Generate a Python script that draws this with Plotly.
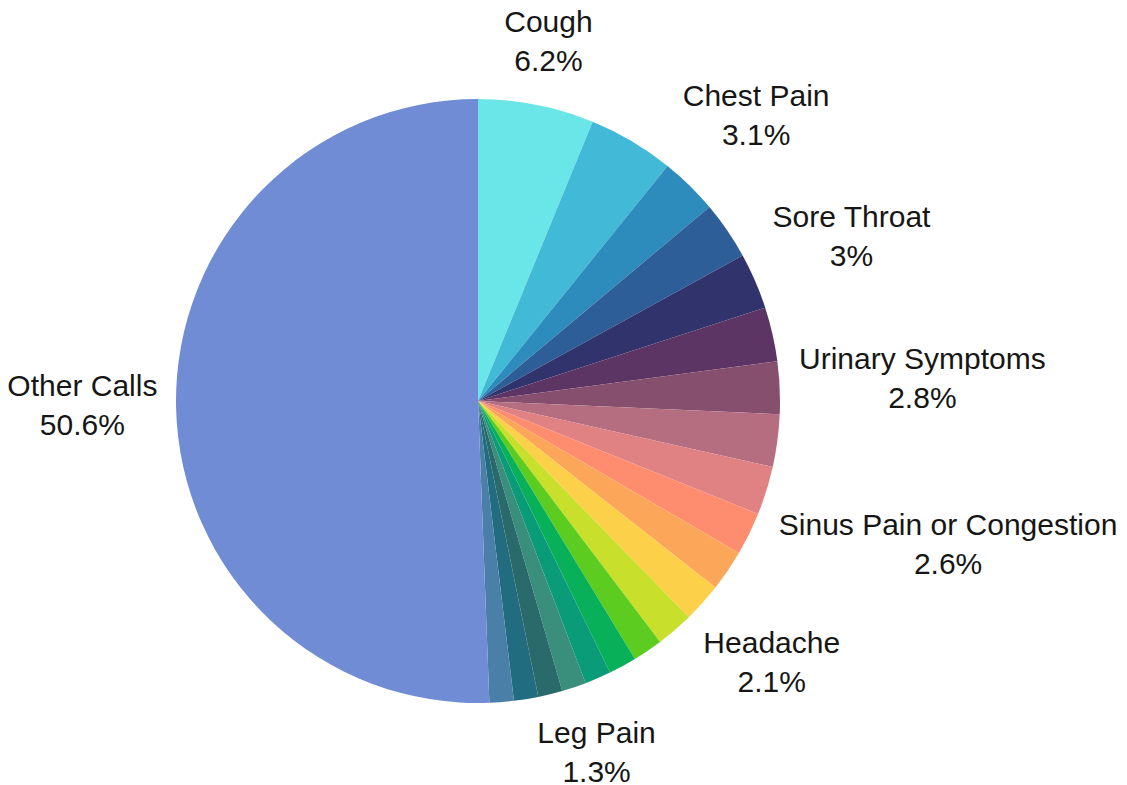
import math
import plotly.graph_objects as go

categories = [
    "Cough", "Symptom 2", "Chest Pain", "Symptom 4", "Sore Throat",
    "Symptom 6", "Urinary Symptoms", "Symptom 8", "Sinus Pain or Congestion",
    "Symptom 10", "Symptom 11", "Headache", "Symptom 13", "Symptom 14",
    "Symptom 15", "Symptom 16", "Leg Pain", "Symptom 18", "Symptom 19",
    "Symptom 20", "Other Calls",
]
values = [
    6.2, 4.6, 3.1, 3.1, 3.0,
    2.9, 2.8, 2.8, 2.6,
    2.3, 2.2, 2.1, 2.0, 1.6,
    1.5, 1.4, 1.3, 1.3, 1.3,
    1.3, 50.6,
]
labelled = [
    "Cough", "Chest Pain", "Sore Throat", "Urinary Symptoms",
    "Sinus Pain or Congestion", "Headache", "Leg Pain", "Other Calls",
]
colors = [
    "#6ae6e8", "#42b9d6", "#2e8cbc", "#2e5e98", "#31346c",
    "#5d3564", "#874f6e", "#b56e80", "#e08283",
    "#fe8d70", "#fca65a", "#fdd04a", "#c8df2c", "#5ccd20",
    "#08b05a", "#0a9c78", "#3a8e7c", "#2b6a6a", "#226c80",
    "#4a80a8", "#6f8cd4",
]

# ---- layout constants (pixels) ----
W, H = 1127, 785
CX, CY, R = 478, 401, 302          # pie centre / radius in page pixels
FONT = 30
PAD = 18                            # gap between pie edge and label box
HALF_H = 36                         # half height of a two-line label

# Arial advance widths (per 1000 em)
AW = {" ": 278, "%": 889, ".": 278}
AW.update({d: 556 for d in "0123456789"})
AW.update(dict(zip("ABCDEFGHIJKLMNOPQRSTUVWXYZ",
                   [667, 667, 722, 722, 667, 611, 778, 722, 278, 500, 667, 556, 833,
                    722, 778, 667, 778, 722, 667, 611, 722, 667, 944, 667, 667, 611])))
AW.update(dict(zip("abcdefghijklmnopqrstuvwxyz",
                   [556, 556, 500, 556, 556, 278, 556, 556, 222, 222, 500, 222, 833,
                    556, 556, 556, 556, 333, 500, 278, 556, 500, 722, 500, 500, 500])))


def text_w(s):
    return sum(AW.get(ch, 556) for ch in s) / 1000 * FONT


total = sum(values)
lx, ly, lt = [], [], []
cum = 0.0
for name, v in zip(categories, values):
    a0 = cum / total * 2 * math.pi
    cum += v
    a1 = cum / total * 2 * math.pi
    if name not in labelled:
        continue
    mid = (a0 + a1) / 2
    pct = f"{v / total * 100:.3g}%"
    half_w = max(text_w(name), text_w(pct)) / 2
    s, c = math.sin(mid), math.cos(mid)
    rc = 1 + (PAD + half_w * abs(s) + HALF_H * abs(c)) / R
    lx.append(rc * s)
    ly.append(rc * c)
    lt.append(f"{name}<br>{pct}")

fig = go.Figure()
fig.add_trace(
    go.Pie(
        labels=categories,
        values=values,
        sort=False,
        direction="clockwise",
        rotation=0,
        marker=dict(colors=colors),
        textinfo="none",
        showlegend=False,
        domain=dict(x=[(CX - R) / W, (CX + R) / W],
                    y=[(H - CY - R) / H, (H - CY + R) / H]),
    )
)
fig.add_trace(
    go.Scatter(
        x=lx, y=ly, text=lt, mode="text",
        textposition="middle center",
        textfont=dict(family="Arial, Liberation Sans, sans-serif", size=FONT, color="#161616"),
        hoverinfo="skip", showlegend=False,
    )
)
fig.update_layout(
    width=W,
    height=H,
    margin=dict(l=0, r=0, t=0, b=0),
    paper_bgcolor="white",
    plot_bgcolor="rgba(0,0,0,0)",
    xaxis=dict(visible=False, range=[-CX / R, (W - CX) / R], domain=[0, 1], fixedrange=True),
    yaxis=dict(visible=False, range=[-(H - CY) / R, CY / R], domain=[0, 1], fixedrange=True),
    showlegend=False,
)
fig.write_html(
    "out.html",
    config={"displayModeBar": False},
    post_script="document.body.style.margin='0';document.body.style.overflow='hidden';",
)
